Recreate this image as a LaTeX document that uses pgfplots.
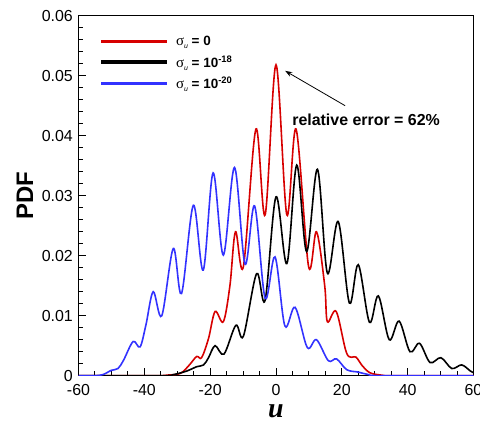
\documentclass[border=0pt]{standalone}
\usepackage{pgfplots}
\pgfplotsset{compat=1.18}
\usetikzlibrary{arrows.meta}
\usepackage{fontspec}
\setmainfont{Liberation Sans}
\newfontfamily\seriffont{Liberation Serif}
\definecolor{redc}{RGB}{215,0,0}
\definecolor{bluec}{RGB}{50,50,255}
\newcommand{\sig}{{\seriffont\fontsize{15}{15}\selectfont σ}\raisebox{-3bp}{\fontsize{7}{7}\selectfont\itshape u}}
\begin{document}
\begin{tikzpicture}
\begin{axis}[
  scale only axis, width=395bp, height=360bp,
  xmin=-60, xmax=60, ymin=0, ymax=0.06,
  scaled y ticks=false, scaled x ticks=false,
  xtick={-60,-40,-20,0,20,40,60},
  xticklabels={-60,-40,-20,0,20,40,60},
  ytick={0,0.01,0.02,0.03,0.04,0.05,0.06},
  yticklabels={0,0.01,0.02,0.03,0.04,0.05,0.06},
  minor x tick num=3, minor y tick num=4,
  tick align=inside, tick pos=left,
  major tick length=8bp, minor tick length=5bp,
  axis line style={line width=1.5bp},
  every tick/.style={line width=1bp, black},
  ticklabel style={font=\fontsize{16}{18}\selectfont, inner sep=1bp},
  xticklabel style={yshift=-7bp},
  yticklabel style={xshift=-4.5bp},
  xlabel={\seriffont\bfseries\itshape\fontsize{28}{30}\selectfont u},
  xlabel style={at={(axis description cs:0.5,-0.116)}, anchor=base, inner sep=0pt},
  ylabel={\bfseries\fontsize{24}{26}\selectfont PDF},
  ylabel style={at={(axis description cs:-0.115,0.5)}, anchor=base, rotate=0, inner sep=0pt},
  legend style={draw=none, fill=none, at={(axis description cs:0.05,0.955)}, anchor=north west,
    font=\fontsize{13.5}{16}\selectfont, row sep=4.5bp, column sep=7bp},
  legend cell align=left,
  every axis plot/.append style={line width=1.6bp, smooth, tension=0.55},
  clip mode=individual,
]
\coordinate (bl) at (rel axis cs:0,0);
\coordinate (tr) at (rel axis cs:1,1);
\addlegendimage{legend image code/.code={\fill[redc] (0bp,-0.8bp) rectangle (64bp,0.8bp);}}
\addlegendentry{\sig\ \textbf{= 0}}
\addlegendimage{legend image code/.code={\fill[black] (0bp,-0.8bp) rectangle (64bp,0.8bp);}}
\addlegendentry{\sig\ \textbf{= 10\textsuperscript{-18}}}
\addlegendimage{legend image code/.code={\fill[bluec] (0bp,-0.8bp) rectangle (64bp,0.8bp);}}
\addlegendentry{\sig\ \textbf{= 10\textsuperscript{-20}}}
% red: sigma_u = 0
\addplot[redc, forget plot] coordinates {
(-60,0) (-37,0) (-33,0.0001) (-29,0.0004) (-26.3,0.0018) (-24.1,0.0032) (-22.6,0.003) (-20.5,0.0062)
(-18.5,0.0107) (-16,0.009) (-14,0.015) (-12.3,0.024) (-9.9,0.0182) (-6.1,0.0411) (-3.3,0.0268)
(0,0.0518) (3.3,0.0268) (6.1,0.0411) (9.9,0.0182) (12.3,0.024) (14.8,0.015) (15.6,0.009)
(18.3,0.0107) (21.5,0.0037) (24.3,0.0031) (26,0.0018) (28.5,0.0005) (32,0.0001) (36,0) (60,0)};
% black: sigma_u = 1e-18
\addplot[black, forget plot] coordinates {
(-60,0) (-35,0) (-31,0.0002) (-27,0.0008) (-24.1,0.0015) (-22,0.0018) (-20.5,0.003) (-18.5,0.005)
(-15.8,0.0036) (-12.2,0.0084) (-9.9,0.0066) (-5.9,0.017) (-3.3,0.0126) (0,0.0298) (3.3,0.0187)
(6.3,0.0351) (9.3,0.0207) (12.6,0.0344) (15.6,0.0171) (18.9,0.0257) (22.3,0.0121) (25.0,0.0185)
(28.4,0.0089) (31.1,0.0133) (34.4,0.006) (37.4,0.0091) (40.7,0.004) (43.6,0.0054) (46.8,0.0022)
(50.1,0.003) (53.4,0.0012) (56.4,0.0018) (59,0.0008) (60,0.0005)};
% blue: sigma_u = 1e-20
\addplot[bluec, forget plot] coordinates {
(-60,0) (-55,0) (-52.5,0.0002) (-50,0.0009) (-48,0.0012) (-46.3,0.0026) (-43.4,0.0057) (-41.3,0.0048)
(-39.5,0.0085) (-37.3,0.014) (-34.7,0.010) (-31.2,0.0212) (-28.7,0.0137) (-25.1,0.0284) (-22.1,0.0176)
(-19.1,0.0338) (-16.0,0.0201) (-12.6,0.0347) (-9.4,0.0186) (-6.5,0.0283) (-3.3,0.0129) (-0.3,0.0198)
(2.7,0.0083) (5.8,0.0114) (9.5,0.0047) (12.3,0.006) (15.9,0.0025) (18.4,0.0028) (21.5,0.001)
(25,0.0006) (28,0.0002) (32,0) (60,0)};
\draw[-{Stealth[length=7bp,width=5bp]}, line width=0.8bp] (axis cs:21,0.045) -- (axis cs:2.8,0.0508);
\node[anchor=west, font=\bfseries\fontsize{16}{18}\selectfont, inner sep=0pt] at (axis cs:4.9,0.0427) {relative error = 62\%};
\end{axis}
\pgfresetboundingbox
\path[use as bounding box] ([shift={(-78.5bp,-45.3bp)}]bl) rectangle ([shift={(6.5bp,15.7bp)}]tr);
\end{tikzpicture}
\end{document}
